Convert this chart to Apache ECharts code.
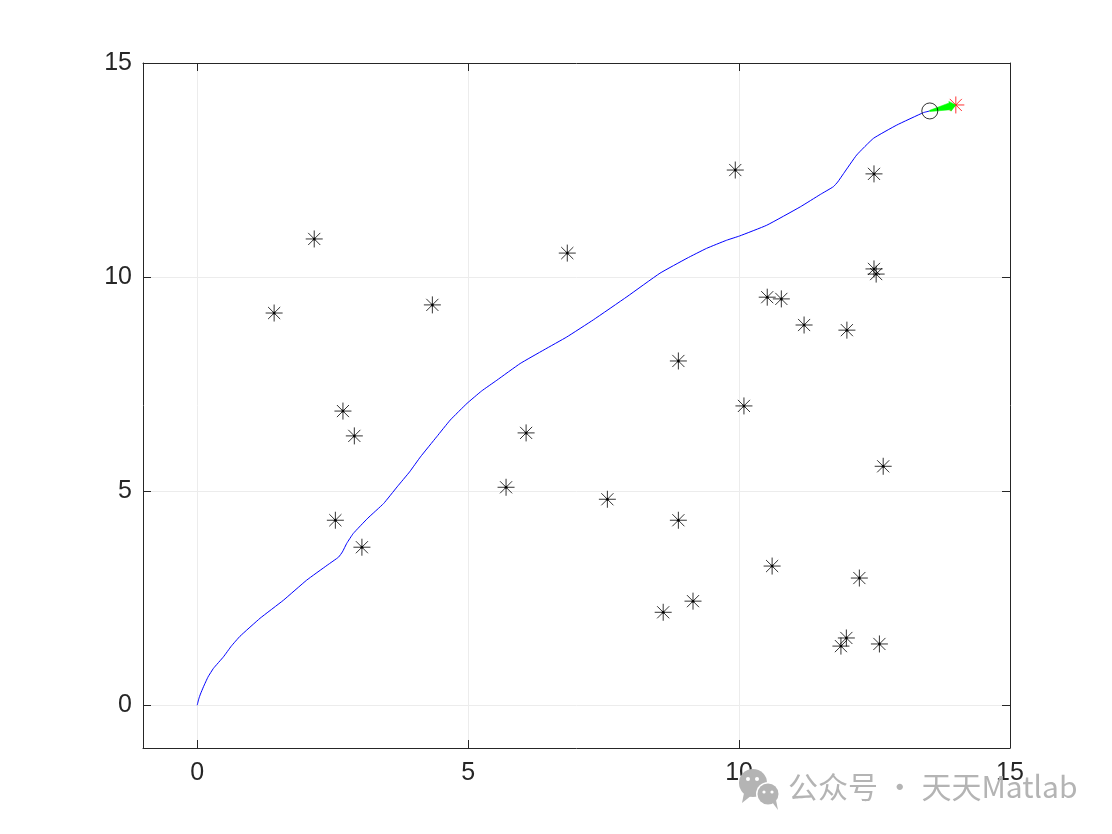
<!DOCTYPE html>
<html>
<head>
<meta charset="utf-8">
<script src="https://cdn.jsdelivr.net/npm/echarts@6/dist/echarts.min.js"></script>
<style>html,body{margin:0;padding:0;background:#fff;}#c{width:1112px;height:834px;}</style>
</head>
<body>
<div id="c"></div>
<script>
// Obstacles (black asterisks)
const obstacleX = [1.42,2.16,2.69,2.90,2.55,3.04,4.34,5.70,6.07,6.83,7.57,8.60,8.88,8.88,9.15,9.93,10.09,10.52,10.78,10.61,11.20,11.99,12.49,12.49,12.53,12.66,12.22,11.98,11.88,12.59];
const obstacleY = [9.16,10.89,6.87,6.29,4.32,3.69,9.35,5.09,6.36,10.56,4.81,2.17,8.04,4.32,2.43,12.50,6.99,9.53,9.49,3.25,8.88,8.76,12.41,10.19,10.07,5.58,2.97,1.57,1.38,1.43];
// Path (blue)
const pathX = [0,0.03,0.06,0.116,0.20,0.30,0.485,0.63,0.79,1.16,1.59,2.02,2.40,2.61,2.68,2.76,2.88,3.15,3.44,3.69,3.92,4.12,4.42,4.67,4.98,5.25,5.53,5.96,6.40,6.82,7.31,7.93,8.54,9.04,9.40,9.77,10.01,10.51,11.13,11.50,11.74,11.82,11.93,12.17,12.48,12.91,13.40,13.52];
const pathY = [0,0.15,0.26,0.43,0.66,0.86,1.13,1.38,1.61,2.03,2.45,2.92,3.27,3.46,3.58,3.78,4.01,4.37,4.71,5.10,5.45,5.80,6.27,6.66,7.05,7.34,7.59,7.98,8.30,8.60,9.00,9.54,10.09,10.44,10.67,10.86,10.96,11.21,11.64,11.93,12.11,12.22,12.42,12.85,13.24,13.55,13.84,13.88];
// Current position (circle) and goal (red asterisk)
const robot = [13.52, 13.88];
const goal = [14.0, 14.02];
// Ticks
const xTicks = [0,5,10,15];
const yTicks = [0,5,10,15];

const starPath = 'path://M0,-8L0,8M-8,0L8,0M-5.7,-5.7L5.7,5.7M-5.7,5.7L5.7,-5.7';
const font = '"Liberation Sans", Arial, sans-serif';
const axisCol = '#262626';

function axis(pos, showLabel, isX, ticks) {
  return {
    type: 'value', position: pos, min: -1, max: 15,
    axisLine: { show: true, onZero: false, lineStyle: { color: axisCol, width: 1 } },
    axisTick: { show: false },
    axisLabel: {
      show: showLabel, color: axisCol, fontSize: 25, fontFamily: font,
      margin: isX ? 13 : 11, customValues: ticks
    },
    splitLine: { show: false }
  };
}

const gridLines = [];
xTicks.forEach(v => { if (v > -1 && v < 15) gridLines.push({ xAxis: v }); });
yTicks.forEach(v => { if (v > -1 && v < 15) gridLines.push({ yAxis: v }); });

const tickData = xTicks.map(v => [v, 0]).concat(yTicks.map(v => [v, 1]));

const chart = echarts.init(document.getElementById('c'), null, { renderer: 'canvas' });
chart.setOption({
  backgroundColor: '#fff',
  animation: false,
  grid: { left: 143, top: 63, width: 867, height: 685 },
  xAxis: [axis('bottom', true, true, xTicks), axis('top', false, true, xTicks)],
  yAxis: [axis('left', true, false, yTicks), axis('right', false, false, yTicks)],
  series: [
    {
      type: 'line', xAxisIndex: 0, yAxisIndex: 0,
      data: pathX.map((x, i) => [x, pathY[i]]),
      showSymbol: false, smooth: 0.12,
      lineStyle: { color: '#0000ff', width: 1 }, z: 3,
      markLine: {
        silent: true, symbol: 'none', label: { show: false },
        lineStyle: { color: '#ececec', width: 1, type: 'solid' },
        data: gridLines, z: 1
      }
    },
    {
      type: 'custom', xAxisIndex: 0, yAxisIndex: 0, silent: true, clip: false,
      data: tickData,
      renderItem: function (params, api) {
        const cs = params.coordSys;
        const v = api.value(0), isY = api.value(1) === 1;
        const L = 8;
        let segs;
        if (!isY) {
          const px = Math.round(api.coord([v, 0])[0]) + 0.5;
          segs = [[px, cs.y + cs.height, px, cs.y + cs.height - L], [px, cs.y, px, cs.y + L]];
        } else {
          const py = Math.round(api.coord([0, v])[1]) + 0.5;
          segs = [[cs.x, py, cs.x + L, py], [cs.x + cs.width, py, cs.x + cs.width - L, py]];
        }
        return {
          type: 'group',
          children: segs.map(s => ({
            type: 'line', shape: { x1: s[0], y1: s[1], x2: s[2], y2: s[3] },
            style: { stroke: axisCol, lineWidth: 1 }
          }))
        };
      }, z: 7
    },
    {
      type: 'scatter', xAxisIndex: 0, yAxisIndex: 0,
      data: obstacleX.map((x, i) => [x, obstacleY[i]]),
      symbol: starPath, symbolSize: 17,
      itemStyle: { color: 'rgba(0,0,0,0)', borderColor: '#000', borderWidth: 1 }, z: 4
    },
    {
      type: 'scatter', xAxisIndex: 0, yAxisIndex: 0,
      data: obstacleX.map((x, i) => [x, obstacleY[i]]),
      symbol: 'circle', symbolSize: 3,
      itemStyle: { color: '#000' }, z: 4
    },
    {
      type: 'custom', xAxisIndex: 0, yAxisIndex: 0,
      data: [[robot[0], robot[1], goal[0], goal[1]]],
      renderItem: function (params, api) {
        const a = api.coord([api.value(0), api.value(1)]);
        const b = api.coord([api.value(2), api.value(3)]);
        const dx = b[0] - a[0], dy = b[1] - a[1];
        const L = Math.sqrt(dx * dx + dy * dy);
        const ux = dx / L, uy = dy / L, nx = -uy, ny = ux;
        const w0 = 0.6, w1 = 3.5;
        const m = [a[0] + ux * (L - 6), a[1] + uy * (L - 6)];
        return {
          type: 'polygon',
          shape: { points: [
            [a[0] + nx * w0, a[1] + ny * w0],
            [m[0] + nx * w1, m[1] + ny * w1],
            [m[0] + nx * (w1 + 1.5), m[1] + ny * (w1 + 1.5)],
            [b[0], b[1]],
            [m[0] - nx * (w1 + 1.5), m[1] - ny * (w1 + 1.5)],
            [m[0] - nx * w1, m[1] - ny * w1],
            [a[0] - nx * w0, a[1] - ny * w0]
          ] },
          style: { fill: '#00ff00', stroke: '#00ff00', lineWidth: 0.5 }
        };
      }, z: 5
    },
    {
      type: 'scatter', xAxisIndex: 0, yAxisIndex: 0,
      data: [goal],
      symbol: starPath, symbolSize: 17,
      itemStyle: { color: 'rgba(0,0,0,0)', borderColor: '#ff0000', borderWidth: 1 }, z: 4
    },
    {
      type: 'scatter', xAxisIndex: 0, yAxisIndex: 0,
      data: [robot],
      symbol: 'circle', symbolSize: 16,
      itemStyle: { color: 'rgba(0,0,0,0)', borderColor: '#000', borderWidth: 1 }, z: 6
    }
  ],
  graphic: [
    { type: 'circle', shape: { cx: 753, cy: 783, r: 14 }, style: { fill: '#b4b4b4' }, z: 10 },
    { type: 'polygon', shape: { points: [[744, 793], [742, 803], [752, 795]] }, style: { fill: '#b4b4b4' }, z: 10 },
    { type: 'circle', shape: { cx: 768, cy: 794, r: 12 }, style: { fill: '#fff' }, z: 10 },
    { type: 'circle', shape: { cx: 768, cy: 794, r: 10.5 }, style: { fill: '#b4b4b4' }, z: 11 },
    { type: 'polygon', shape: { points: [[772, 802], [778, 810], [776, 800]] }, style: { fill: '#b4b4b4' }, z: 11 },
    { type: 'circle', shape: { cx: 748, cy: 779, r: 2 }, style: { fill: '#fff' }, z: 11 },
    { type: 'circle', shape: { cx: 757, cy: 779, r: 2 }, style: { fill: '#fff' }, z: 11 },
    { type: 'circle', shape: { cx: 764, cy: 792, r: 1.6 }, style: { fill: '#fff' }, z: 12 },
    { type: 'circle', shape: { cx: 772, cy: 792, r: 1.6 }, style: { fill: '#fff' }, z: 12 },
    {
      type: 'text', left: 788, top: 772, z: 12,
      style: { text: '公众号 · 天天Matlab', fill: '#b4b4b4', fontSize: 30, fontFamily: '"Noto Sans CJK SC", "Noto Sans", sans-serif' }
    }
  ]
});
</script>
</body>
</html>
